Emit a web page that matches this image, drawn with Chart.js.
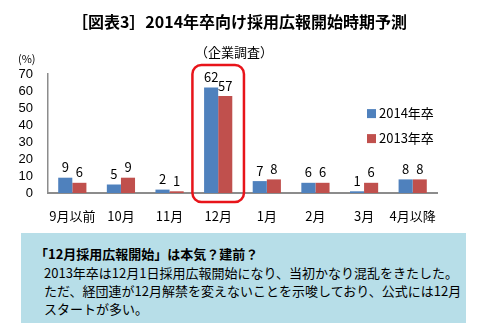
<!DOCTYPE html>
<html>
<head>
<meta charset="utf-8">
<script src="https://cdn.jsdelivr.net/npm/chart.js@4"></script>
<style>
  body { margin: 0; background: #fff; font-family: "Noto Sans CJK JP", sans-serif; }
  #wrap { position: relative; width: 479px; height: 334px; overflow: hidden; }
  #chart { position: absolute; left: 0; top: 0; }
  .txt { position: absolute; white-space: nowrap; color: #000; }
  #title { left: 0; width: 479px; top: 9px; text-align: center; font-size: 16px; font-weight: bold; line-height: 24px; }
  #sub { left: 0; width: 468px; top: 42px; text-align: center; font-size: 13px; line-height: 20px; }
  #unit { left: 18px; top: 51px; font-size: 11px; line-height: 14px; }
  #box { position: absolute; left: 21px; top: 233px; width: 445px; height: 90px; background: #b7dee8; }
  #box .l1 { left: 14px; top: 12px; font-size: 13px; font-weight: bold; line-height: 18px; }
  #box .l2 { left: 23px; top: 31px; font-size: 13px; line-height: 18px; }
  #box .l3 { left: 23px; top: 49px; font-size: 13px; line-height: 18px; }
  #box .l4 { left: 23px; top: 67px; font-size: 13px; line-height: 18px; }
</style>
</head>
<body>
<div id="wrap">
  <canvas id="chart" width="479" height="334"></canvas>
  <div class="txt" id="title">［図表3］2014年卒向け採用広報開始時期予測</div>
  <div class="txt" id="sub">（企業調査）</div>
  <div class="txt" id="unit">(%)</div>
  <div id="box">
    <div class="txt l1">「12月採用広報開始」は本気？建前？</div>
    <div class="txt l2">2013年卒は12月1日採用広報開始になり、当初かなり混乱をきたした。</div>
    <div class="txt l3">ただ、経団連が12月解禁を変えないことを示唆しており、公式には12月</div>
    <div class="txt l4">スタートが多い。</div>
  </div>
</div>
<script>
var categories = ['9月以前', '10月', '11月', '12月', '1月', '2月', '3月', '4月以降'];
var grad2014 = [9, 5, 2, 62, 7, 6, 1, 8];
var grad2013 = [6, 9, 1, 57, 8, 6, 6, 8];
var seriesNames = ['2014年卒', '2013年卒'];
var seriesColors = ['#4f81bd', '#c0504d'];
var yTicks = [0, 10, 20, 30, 40, 50, 60, 70];
var highlightIndex = 3;

var FONT = '"Noto Sans CJK JP", sans-serif';

// values above bars, legend at right, red frame round December
var extras = {
    id: 'extras',
    afterDatasetsDraw: function (chart) {
        var ctx = chart.ctx;
        ctx.save();
        ctx.fillStyle = '#000';
        ctx.font = '13px ' + FONT;
        ctx.textAlign = 'center';
        ctx.textBaseline = 'bottom';
        chart.data.datasets.forEach(function (ds, di) {
            var meta = chart.getDatasetMeta(di);
            meta.data.forEach(function (bar, i) {
                ctx.fillText(String(ds.data[i]), bar.x, bar.y - 4);
            });
        });

        var xs = chart.scales.x;
        var ys = chart.scales.y;
        var cx = xs.getPixelForValue(highlightIndex);
        var half = (xs.getPixelForValue(1) - xs.getPixelForValue(0)) * 0.53;
        var top = ys.getPixelForValue(yTicks[yTicks.length - 1]) - 9;
        var bottom = ys.getPixelForValue(0) + 9;
        ctx.strokeStyle = '#e8141a';
        ctx.lineWidth = 2.5;
        ctx.beginPath();
        ctx.roundRect(cx - half, top, half * 2, bottom - top, 9);
        ctx.stroke();

        var area = chart.chartArea;
        var lx = area.right - 70;
        ctx.textAlign = 'left';
        ctx.textBaseline = 'middle';
        seriesNames.forEach(function (name, i) {
            var ly = ys.getPixelForValue(47) + i * 25;
            ctx.fillStyle = seriesColors[i];
            ctx.fillRect(lx, ly - 4, 9, 9);
            ctx.fillStyle = '#000';
            ctx.fillText(name, lx + 12, ly);
        });
        ctx.restore();
    }
};

new Chart(document.getElementById('chart'), {
    type: 'bar',
    data: {
        labels: categories,
        datasets: [
            { label: seriesNames[0], data: grad2014, backgroundColor: seriesColors[0] },
            { label: seriesNames[1], data: grad2013, backgroundColor: seriesColors[1] }
        ]
    },
    options: {
        responsive: false,
        animation: false,
        devicePixelRatio: 1,
        layout: { padding: { top: 74, right: 42, left: 0, bottom: 0 } },
        datasets: { bar: { categoryPercentage: 0.58, barPercentage: 1 } },
        plugins: { legend: { display: false }, tooltip: { enabled: false } },
        scales: {
            x: {
                grid: { display: false, drawTicks: false },
                border: { display: true, color: '#8c8c8c', width: 2 },
                ticks: { color: '#000', font: { family: FONT, size: 13 }, padding: 15, maxRotation: 0, autoSkip: false },
                afterFit: function (s) { s.height = 141; }
            },
            y: {
                min: 0,
                max: 70,
                afterBuildTicks: function (s) {
                    s.ticks = yTicks.map(function (v) { return { value: v }; });
                },
                grid: { display: false, drawTicks: false },
                border: { display: true, color: '#8c8c8c', width: 1.5 },
                ticks: { color: '#000', font: { family: 'Liberation Sans, Arial, sans-serif', size: 13 }, padding: 15, autoSkip: false },
                afterFit: function (s) { s.width = 48; }
            }
        }
    },
    plugins: [extras]
});
</script>
</body>
</html>
